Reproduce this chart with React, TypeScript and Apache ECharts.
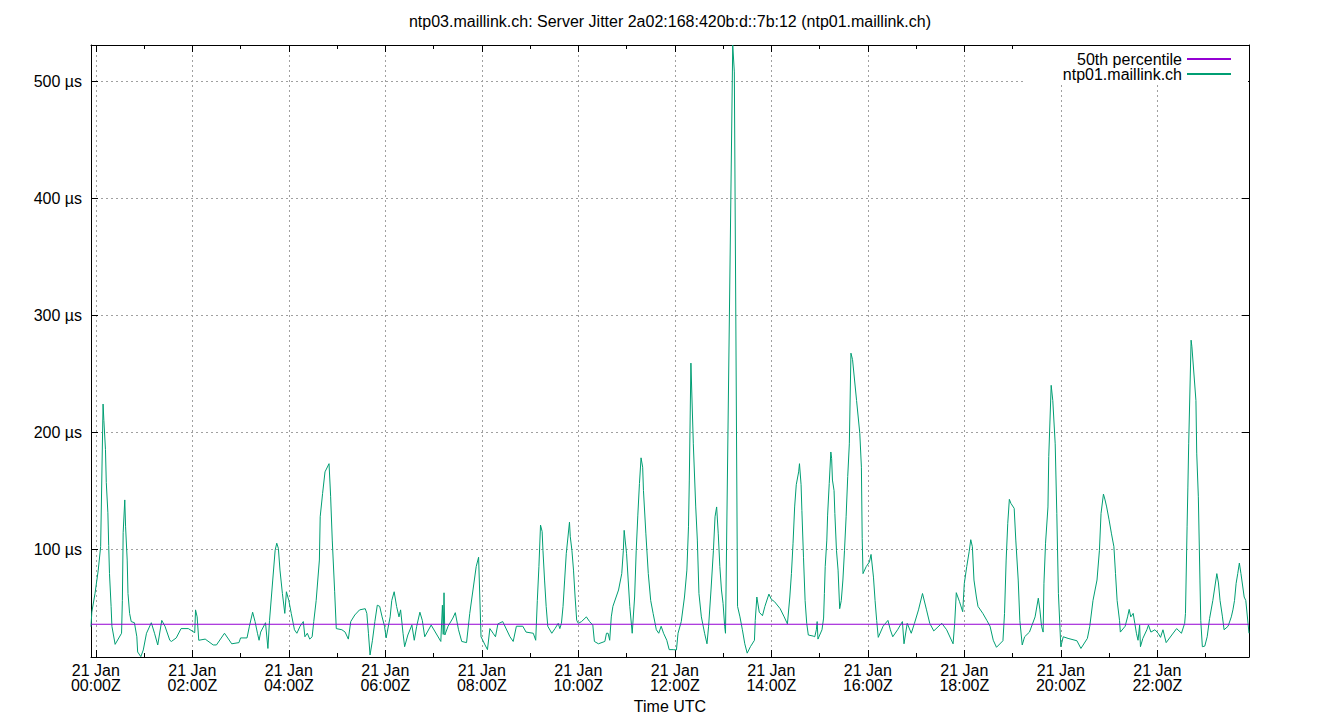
import React, { useEffect, useRef } from "react";
import * as echarts from "echarts";

// Minutes since 21 Jan 00:00Z
const times: number[] = [
  -6, -5, -1, 3, 6, 9, 10, 12, 13, 15, 16, 17, 19, 20, 24, 32, 33, 34, 36, 37, 39, 40, 42, 44, 48, 51, 52, 56, 59, 63,
  69, 73, 77, 82, 86, 92, 94, 100, 106, 115, 123, 124, 126, 128, 136, 146, 150, 160, 169, 178, 180, 188, 191, 195, 198,
  201, 203, 205, 211, 214, 216, 220, 223, 225, 227, 229, 232, 235, 237, 240, 243, 247, 250, 254, 258, 260, 263, 266, 269,
  271, 274, 278, 279, 282, 285, 290, 292, 294, 297, 299, 306, 310, 314, 317, 322, 328, 335, 337, 339, 341, 344, 347, 350,
  353, 356, 359, 361, 366, 368, 371, 374, 377, 379, 382, 384, 388, 393, 396, 399, 403, 406, 409, 417, 429, 431, 432, 433,
  434, 438, 444, 447, 451, 455, 461, 465, 469, 473, 476, 479, 484, 487, 490, 494, 497, 500, 506, 515, 519, 523, 531, 535,
  544, 547, 549, 551, 553, 555, 556, 558, 560, 562, 567, 571, 575, 577, 579, 581, 583, 585, 589, 590, 592, 594, 596, 598,
  600, 604, 610, 614, 618, 620, 625, 633, 635, 637, 639, 641, 643, 647, 650, 654, 656, 657, 660, 662, 664, 667, 670, 672,
  674, 676, 678, 680, 681, 684, 687, 690, 693, 697, 700, 703, 706, 710, 713, 718, 722, 724, 728, 732, 735, 737, 738, 740,
  743, 746, 748, 750, 753, 757, 760, 762, 765, 768, 770, 772, 774, 776, 778, 780, 782, 783, 792, 794, 798, 801, 804, 807,
  810, 814, 819, 820, 822, 825, 829, 832, 837, 840, 844, 851, 856, 860, 863, 865, 867, 869, 871, 874, 875, 877, 878, 880,
  882, 884, 886, 892, 894, 896, 897, 898, 903, 905, 906, 907, 909, 910, 912, 914, 915, 916, 918, 919, 921, 923, 925, 927,
  929, 931, 933, 935, 937, 939, 941, 946, 950, 952, 953, 954, 958, 962, 964, 967, 969, 971, 973, 979, 985, 988, 991, 997,
  1003, 1005, 1009, 1014, 1018, 1023, 1028, 1033, 1037, 1042, 1052, 1058, 1066, 1068, 1070, 1074, 1078, 1080, 1083, 1086,
  1088, 1090, 1092, 1095, 1097, 1103, 1108, 1112, 1116, 1120, 1128, 1130, 1132, 1134, 1136, 1138, 1142, 1144, 1147, 1149,
  1152, 1155, 1161, 1168, 1172, 1174, 1176, 1178, 1179, 1181, 1184, 1185, 1188, 1190, 1193, 1195, 1197, 1200, 1203, 1209,
  1220, 1225, 1233, 1236, 1240, 1245, 1248, 1250, 1253, 1255, 1257, 1260, 1263, 1266, 1268, 1270, 1273, 1274, 1280, 1283,
  1285, 1287, 1290, 1292, 1294, 1296, 1298, 1299, 1302, 1307, 1309, 1312, 1317, 1321, 1324, 1327, 1331, 1338, 1344, 1350,
  1354, 1355, 1357, 1358, 1359, 1362, 1363, 1368, 1369, 1371, 1373, 1374, 1376, 1379, 1382, 1385, 1389, 1394, 1396, 1398,
  1401, 1403, 1408, 1412, 1414, 1416, 1418, 1420, 1422, 1424, 1428, 1430, 1434,
];

// Server jitter in µs
const jitter: number[] = [
  33.6, 46, 62, 82, 102, 224, 210, 185, 157, 131, 103, 79, 51, 34, 18.5, 28, 56, 114, 142, 119, 90.6, 62, 45, 38, 37, 25, 12, 8, 13.7, 28,
  37, 28, 18, 39, 34, 22, 21, 24, 32, 32, 28.5, 48, 42, 22, 23, 18, 18, 28, 19, 20, 24, 24, 34, 46, 38,
  28, 22, 29, 37, 15, 39, 73.5, 99, 105, 100.6, 82, 62, 45, 63.5, 56, 45, 31, 28, 34, 38, 25, 28, 23, 25,
  38, 56, 90.6, 127.6, 147.6, 166, 173, 144.7, 107.7, 63.5, 32, 31, 29, 23, 38, 43.6, 48, 49, 45, 28, 9.4, 22, 38, 52,
  51, 42, 34, 24, 42, 56, 63.5, 51, 42, 48, 28, 16.5, 26.5, 35, 22, 34, 46, 39, 25, 35, 21, 52, 27, 62.6,
  26.5, 34, 41, 45.6, 31, 21, 20, 45, 65, 85, 93, 25, 18, 14, 32, 28, 25, 36, 38, 25, 21, 34, 34, 29,
  28, 22, 56, 85, 120.5, 115, 99, 73.5, 51, 34, 28, 32, 36.5, 32, 36.5, 51, 73.5, 96, 123, 110.5, 99, 82, 59, 39,
  36.5, 38, 42, 38, 35, 21, 19, 21, 28, 28, 22, 42, 51, 59, 65, 79, 99, 116, 96, 73.5, 51, 28, 59, 99,
  129, 156, 178, 170, 150, 113, 79, 56, 45, 31, 28, 34, 28, 22, 14, 14, 13.7, 28, 38, 59, 82, 119, 159, 259,
  190, 136, 107.7, 62, 42, 28, 19, 34, 65, 99, 127.6, 136, 113, 85, 65, 53.5, 34, 28, 531, 508, 51, 42, 31, 19,
  11, 16.5, 22, 39, 59, 46, 43, 51, 61.5, 57, 55, 49, 42, 36, 59, 79, 105, 136, 155, 166, 173, 155, 133, 93,
  56, 36.5, 26.5, 25.6, 25, 31, 38, 23, 31, 41, 62, 85, 107.7, 129, 156, 183, 177.5, 159, 150, 130.5, 99, 82, 49, 56,
  73.5, 99, 127.6, 162, 190, 267.5, 262, 227, 199, 170, 109, 79, 85, 89, 95.4, 76, 56, 39, 24.5, 34, 39, 31, 25, 31,
  38, 19, 36.5, 28, 36.5, 48, 62, 48, 36.5, 30, 36.5, 31, 19, 36.5, 62.7, 55, 46.4, 70.7, 85, 97.7,
  108, 102, 73.5, 59, 51, 45, 39, 34, 22, 16, 21.6, 45, 90.6, 122, 142.5, 139, 134.8, 107.7, 73.5, 39,
  18, 25, 29, 42, 58, 48, 34, 29, 70.7, 105, 136, 179, 240, 227, 190, 130.5, 62, 16.5, 25, 23.6,
  21.6, 15, 23.6, 34, 56, 73.5, 99, 130.5, 147, 142, 136, 125, 113, 102, 79, 56, 39, 29, 34, 42,
  48.4, 42, 45, 36.5, 28, 22, 35, 16.5, 23.6, 31, 35, 29, 31, 28, 24.5, 31, 20, 26.5, 32, 28,
  36.5, 45, 119, 153, 190, 278.6, 273, 227, 182, 144.7, 73.5, 39, 16.5, 17, 25, 40.7, 56, 79, 71, 56,
  42, 31, 34, 42, 48, 56, 70.7, 79, 88, 79, 59, 56, 28,
];

const median50 = 35.7;

const xMajorTicks: number[] = [0, 120, 240, 360, 480, 600, 720, 840, 960, 1080, 1200, 1320];
const xMinorTicks: number[] = [60, 180, 300, 420, 540, 660, 780, 900, 1020, 1140, 1260, 1380];
const yTicks: number[] = [100, 200, 300, 400, 500];

const yMin = 7.7;
const yMax = 531;

const FONT = "'Liberation Sans', Arial, sans-serif";

export default function App() {
  const ref = useRef<HTMLDivElement>(null);

  useEffect(() => {
    if (!ref.current) return;
    const chart = echarts.init(ref.current, undefined, { renderer: "svg" });
    const tMin = times[0];
    const tMax = times[times.length - 1];
    const pad = (n: number) => (n < 10 ? "0" + n : "" + n);
    const black = "#000";
    const gridLine = { show: true, lineStyle: { color: "#a0a0a0", width: 1, type: [2, 3] as any } };

    const xBase = (position: string, ticks: number[], len: number, showLine: boolean) => ({
      type: "value",
      position,
      min: tMin,
      max: tMax,
      axisLine: { show: showLine, onZero: false, lineStyle: { color: black, width: 1 } },
      axisTick: { show: true, inside: true, length: len, customValues: ticks, lineStyle: { color: black, width: 1 } },
      axisLabel: { show: false, customValues: ticks },
      splitLine: { show: false },
    });

    const yBase = (position: string) => ({
      type: "value",
      position,
      min: yMin,
      max: yMax,
      axisLine: { show: true, onZero: false, lineStyle: { color: black, width: 1 } },
      axisTick: { show: true, inside: true, length: 7, customValues: yTicks, lineStyle: { color: black, width: 1 } },
      axisLabel: { show: false, customValues: yTicks },
      splitLine: { show: false },
    });

    const option: any = {
      animation: false,
      backgroundColor: "#fff",
      textStyle: { fontFamily: FONT },
      title: {
        text: "ntp03.maillink.ch: Server Jitter 2a02:168:420b:d::7b:12 (ntp01.maillink.ch)",
        left: "center",
        top: 8,
        textStyle: { fontFamily: FONT, fontSize: 16, fontWeight: "normal", color: black, lineHeight: 16 },
      },
      grid: { left: 91, right: 91, top: 45, bottom: 63, containLabel: false },
      legend: {
        orient: "vertical",
        right: 108,
        top: 51,
        align: "right",
        itemWidth: 44,
        itemHeight: 12,
        itemGap: -1,
        padding: 0,
        itemStyle: { opacity: 0 },
        textStyle: { fontFamily: FONT, fontSize: 16, color: black },
        data: ["50th percentile", "ntp01.maillink.ch"],
      },
      graphic: [
        {
          type: "rect",
          z: 1,
          shape: { x: 1025, y: 46, width: 223, height: 38 },
          style: { fill: "#fff" },
          silent: true,
        },
      ],
      xAxis: [
        {
          ...xBase("bottom", xMajorTicks, 7, true),
          axisLabel: {
            show: true,
            customValues: xMajorTicks,
            color: black,
            fontFamily: FONT,
            fontSize: 16,
            lineHeight: 15,
            margin: 6,
            formatter: (v: number) => `21 Jan\n${pad(Math.round(v / 60))}:00Z`,
          },
          splitLine: gridLine,
          name: "Time UTC",
          nameLocation: "middle",
          nameGap: 41,
          nameTextStyle: { fontFamily: FONT, fontSize: 16, color: black },
        },
        xBase("bottom", xMinorTicks, 4, false),
        xBase("top", xMajorTicks, 7, true),
        xBase("top", xMinorTicks, 4, false),
      ],
      yAxis: [
        {
          ...yBase("left"),
          axisLabel: {
            show: true,
            customValues: yTicks,
            color: black,
            fontFamily: FONT,
            fontSize: 16,
            margin: 9,
            formatter: (v: number) => `${v} µs`,
          },
          splitLine: gridLine,
        },
        yBase("right"),
      ],
      series: [
        {
          name: "50th percentile",
          type: "line",
          xAxisIndex: 0,
          yAxisIndex: 0,
          symbol: "none",
          color: "#9400d3",
          lineStyle: { color: "#9400d3", width: 1 },
          data: [
            [tMin, median50],
            [tMax, median50],
          ],
          z: 3,
        },
        {
          name: "ntp01.maillink.ch",
          type: "line",
          xAxisIndex: 0,
          yAxisIndex: 0,
          symbol: "none",
          color: "#009e73",
          lineStyle: { color: "#009e73", width: 1 },
          data: times.map((t, i) => [t, jitter[i]]),
          z: 2,
        },
      ],
    };
    chart.setOption(option);
    return () => chart.dispose();
  }, []);

  return (
    <div
      ref={ref}
      style={{ position: "fixed", left: 0, top: 0, width: 1340, height: 720, background: "#fff" }}
    />
  );
}
